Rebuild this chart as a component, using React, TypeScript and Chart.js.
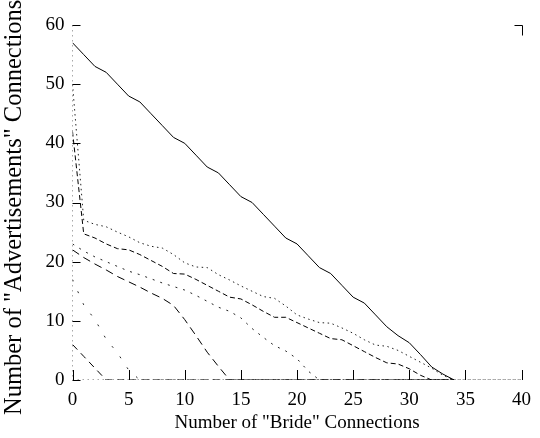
import { useEffect, useRef } from 'react';
import { Chart, registerables } from 'chart.js';
Chart.register(...registerables);

const xTicks = [0, 5, 10, 15, 20, 25, 30, 35, 40];
const yTicks = [0, 10, 20, 30, 40, 50, 60];
const xTitle = 'Number of "Bride" Connections';
const yTitle = 'Number of "Advertisements" Connections';

const stepX = [0, 1, 2, 3, 4, 5, 6, 7, 8, 9, 10, 11, 12, 13, 14, 15, 16, 17, 18, 19, 20,
  21, 22, 23, 24, 25, 26, 27, 28, 29, 30, 31, 32, 33, 34, 35, 36, 37, 38, 39, 40];

const solidY = [57, 55, 53, 52, 50, 48, 47, 45, 43, 41, 40, 38, 36, 35, 33, 31, 30, 28, 26, 24, 23,
  21, 19, 18, 16, 14, 13, 11, 9, 7.5, 6.3, 4.3, 2.2, 1, 0];

const dottedUpperY = [50, 27, 26.3, 25.9, 25, 24.2, 23.2, 22.6, 22.3, 21.2, 19.8, 19.1, 19, 17.8, 16.9,
  15.9, 15, 14.1, 13.8, 12.5, 11, 10.3, 9.7, 9.6, 8.8, 7.9, 6.8, 5.9, 5.7, 5, 4, 3, 2, 0.8, 0,
  0, 0, 0, 0, 0, 0];

const dashedMidY = [42, 24.7, 24, 23, 22.2, 22, 21.2, 20.2, 19.2, 18, 17.9, 17, 16, 15, 14, 13.7, 12.7,
  11.6, 10.6, 10.6, 9.7, 8.8, 7.9, 7, 6.8, 5.8, 4.8, 3.8, 2.9, 2.7, 1.9, 0.8, 0, 0, 0];

const lowerDotY = [23, 21.8, 20.8, 20, 19.2, 18.4, 17.8, 17.1, 16.4, 15.8, 15.2, 14.3, 13.3, 12.3, 11.6,
  10.5, 8.7, 7.2, 5.8, 4.9, 3.6, 1.5, 0, 0, 0, 0, 0, 0, 0, 0, 0, 0, 0, 0, 0];

const longDashY = [22, 20.7, 19.6, 18.6, 17.5, 16.6, 15.7, 14.7, 13.8, 12.6, 10.2, 7.5, 4.7, 2.3, 0,
  0, 0, 0, 0, 0, 0, 0, 0, 0, 0, 0, 0, 0, 0, 0, 0, 0, 0, 0, 0];

const sparseDotY = [17, 12.7, 10.2, 6.9, 4.6, 1.7, 0, 0, 0, 0, 0, 0, 0, 0, 0, 0, 0, 0, 0, 0, 0,
  0, 0, 0, 0, 0, 0, 0, 0, 0, 0, 0, 0, 0, 0];

const shortDashY = [6, 4, 2, 0, 0, 0, 0, 0, 0, 0, 0, 0, 0, 0, 0, 0, 0, 0, 0, 0, 0,
  0, 0, 0, 0, 0, 0, 0, 0, 0, 0, 0, 0, 0, 0];

const edgeX = [0, 0, 40];
const edgeY = [60, 0, 0];

const toPoints = (xs: number[], ys: number[]) => ys.map((y, i) => ({ x: xs[i], y }));

const FAMILY = '"Liberation Serif", "Times New Roman", serif';
const FONT = { family: FAMILY, size: 19 };
const XTITLE_FONT = { family: FAMILY, size: 19 };

const decorations = {
  id: 'decorations',
  afterDraw(chart: any) {
    const { ctx, chartArea, scales } = chart;
    const xs = scales.x;
    const ys = scales.y;
    ctx.save();
    ctx.strokeStyle = '#000';
    ctx.lineWidth = 1;
    ctx.beginPath();
    xTicks.forEach((v) => {
      const px = Math.round(xs.getPixelForValue(v)) + 0.5;
      ctx.moveTo(px, chartArea.bottom);
      ctx.lineTo(px, chartArea.bottom - 10);
    });
    yTicks.forEach((v) => {
      const py = Math.round(ys.getPixelForValue(v)) + 0.5;
      ctx.moveTo(chartArea.left, py);
      ctx.lineTo(chartArea.left + 8, py);
    });
    const top = Math.round(ys.getPixelForValue(60)) + 0.5;
    const right = Math.round(xs.getPixelForValue(40)) + 0.5;
    ctx.moveTo(right - 8, top);
    ctx.lineTo(right, top);
    ctx.lineTo(right, top + 10);
    ctx.stroke();
    // rotated y-axis title
    ctx.translate(14.5, 415);
    ctx.rotate(-Math.PI / 2);
    ctx.fillStyle = '#000';
    ctx.font = '24.5px ' + FAMILY;
    ctx.textAlign = 'left';
    ctx.textBaseline = 'middle';
    ctx.fillText(yTitle, 0, 0);
    ctx.restore();
  },
};

export default function App() {
  const ref = useRef<HTMLCanvasElement | null>(null);
  useEffect(() => {
    document.body.style.margin = '0';
    const canvas = ref.current;
    if (!canvas) return;
    const base = { borderColor: '#000', borderWidth: 1, pointRadius: 0, fill: false, tension: 0 };
    const chart = new Chart(canvas, {
      type: 'line',
      data: {
        datasets: [
          { ...base, data: toPoints(stepX, solidY), borderDash: [] },
          { ...base, data: toPoints(stepX, dottedUpperY), borderDash: [1.5, 3.5], borderColor: '#222' },
          { ...base, data: toPoints(stepX, dashedMidY), borderDash: [5, 3] },
          { ...base, data: toPoints(stepX, lowerDotY), borderDash: [2, 6], borderColor: '#222' },
          { ...base, data: toPoints(stepX, longDashY), borderDash: [8, 5] },
          { ...base, data: toPoints(stepX, sparseDotY), borderDash: [2, 11], borderColor: '#222' },
          { ...base, data: toPoints(stepX, shortDashY), borderDash: [7, 5] },
          { ...base, data: toPoints(edgeX, edgeY), borderDash: [1.5, 3.5], borderColor: '#555' },
        ],
      },
      options: {
        responsive: false,
        animation: false,
        events: [],
        layout: { padding: { top: 25, right: 11, left: 0, bottom: 0 } },
        plugins: { legend: { display: false }, tooltip: { enabled: false }, title: { display: false } },
        scales: {
          x: {
            type: 'linear',
            min: 0,
            max: 40,
            afterBuildTicks: (s: any) => { s.ticks = xTicks.map((v) => ({ value: v })); },
            afterFit: (s: any) => { s.height = 58; },
            grid: { display: false, drawTicks: false },
            border: { display: false },
            ticks: { color: '#000', font: FONT, padding: 9, maxRotation: 0 },
            title: { display: true, text: xTitle, color: '#000', font: XTITLE_FONT, padding: { top: 0, bottom: 4 } },
          },
          y: {
            type: 'linear',
            min: 0,
            max: 60,
            afterBuildTicks: (s: any) => { s.ticks = yTicks.map((v) => ({ value: v })); },
            afterFit: (s: any) => { s.width = 72.5; },
            grid: { display: false, drawTicks: false },
            border: { display: false },
            ticks: { color: '#000', font: FONT, padding: 8 },
            title: { display: false },
          },
        },
      },
      plugins: [decorations],
    });
    return () => chart.destroy();
  }, []);
  return <canvas ref={ref} width={540} height={438} style={{ display: 'block' }} />;
}
